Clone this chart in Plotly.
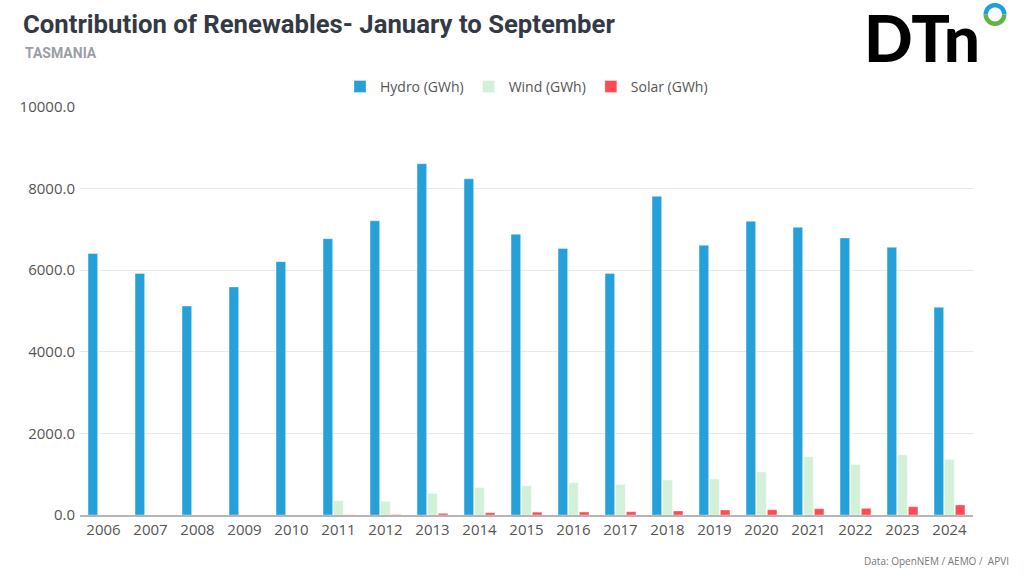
import numpy as np
import plotly.graph_objects as go

years = [str(y) for y in range(2006, 2025)]
hydro = [6410, 5920, 5120, 5590, 6210, 6770, 7210, 8610, 8240, 6880, 6530, 5920, 7810, 6610, 7200, 7050, 6790, 6560, 5090]
wind = [0, 0, 0, 0, 0, 350, 335, 530, 670, 717, 790, 750, 857, 881, 1053, 1427, 1239, 1476, 1361]
solar = [0, 0, 0, 0, 0, 4, 9, 40, 56, 70, 73, 80, 98, 122, 130, 154, 162, 203, 245]

W, H = 1024, 576
L, R, T, B = 80, 50.5, 106.7, 60.7

def px2paper(px, py):
    return (px - L) / (W - L - R), (H - B - py) / (H - T - B)

fig = go.Figure()
edge = dict(color="rgba(255,255,255,0.35)", width=1)
fig.add_bar(x=years, y=hydro, name="Hydro (GWh)", marker=dict(color="#26A0D8", line=edge))
fig.add_bar(x=years, y=wind, name="Wind (GWh)", marker=dict(color="#D3F0D8", line=edge))
fig.add_bar(x=years, y=solar, name="Solar (GWh)", marker=dict(color="#FF4B55", line=edge))

fig.update_layout(
    width=W, height=H,
    margin=dict(l=L, r=R, t=T, b=B),
    paper_bgcolor="white", plot_bgcolor="white",
    barmode="group", bargap=0.32, bargroupgap=0.1,
    font=dict(family="Open Sans", color="#555555", size=14),
    legend=dict(orientation="h", x=0.5, xanchor="center", y=1.01, yanchor="bottom",
                font=dict(family="Open Sans", size=14, color="#555555"),
                itemwidth=30, traceorder="normal"),
    showlegend=True,
)
fig.update_xaxes(type="category", showgrid=False, showline=True, linecolor="#B5B5B5", linewidth=1.5,
                 ticks="", tickfont=dict(family="Open Sans", size=15, color="#555555"))
fig.update_yaxes(range=[0, 10000], tickvals=[0, 2000, 4000, 6000, 8000, 10000], tickformat=".1f",
                 showgrid=True, gridcolor="#E8E8E8", gridwidth=1.2, zeroline=False,
                 tickfont=dict(family="Open Sans", size=15, color="#555555"), ticklabelstandoff=4)

def note(text, px, py, xanchor, font):
    x, y = px2paper(px, py)
    fig.add_annotation(text=text, xref="paper", yref="paper", x=x, y=y, xanchor=xanchor,
                       yanchor="middle", showarrow=False, font=font)

note("<b>Contribution of Renewables- January to September</b>", 21, 24, "left",
     dict(family="Roboto", size=25.7, color="#333A45"))
note("<b>TASMANIA</b>", 23, 53, "left", dict(family="Roboto", size=14, color="#9A9EA6"))
note("Data: OpenNEM / AEMO /  APVI", 1012, 561, "right", dict(family="Open Sans", size=10, color="#777777"))
note("DTn", 862, 37, "left", dict(family="Lato", size=64, color="#000000", weight=900))

cx, cy, ro, ri = 995.5, 14.0, 11.5, 7.0
def half_ring(a0, a1):
    ang = np.linspace(a0, a1, 40)
    outer = [px2paper(cx + ro * np.cos(a), cy - ro * np.sin(a)) for a in ang]
    inner = [px2paper(cx + ri * np.cos(a), cy - ri * np.sin(a)) for a in ang[::-1]]
    pts = outer + inner
    return "M " + " L ".join(f"{x:.5f},{y:.5f}" for x, y in pts) + " Z"

fig.add_shape(type="path", path=half_ring(0, np.pi), xref="paper", yref="paper",
              fillcolor="#1E9FDA", line=dict(width=0))
fig.add_shape(type="path", path=half_ring(np.pi, 2 * np.pi), xref="paper", yref="paper",
              fillcolor="#5DB545", line=dict(width=0))

fig.write_html("out.html", config={"displayModeBar": False},
               post_script="document.body.style.margin='0';document.body.style.overflow='hidden';")
